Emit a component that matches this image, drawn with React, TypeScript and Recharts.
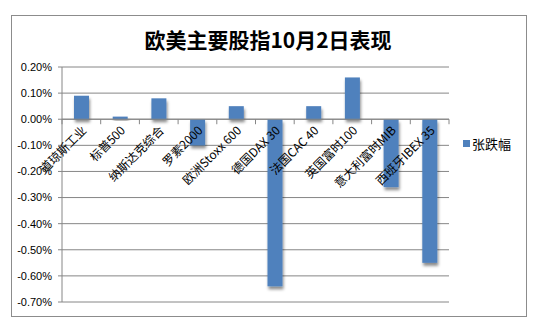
import React from 'react';
import { BarChart, Bar, XAxis, YAxis, CartesianGrid, ReferenceLine, Legend } from 'recharts';

const categories = ['道琼斯工业', '标普500', '纳斯达克综合', '罗素2000', '欧洲Stoxx 600', '德国DAX 30', '法国CAC 40', '英国富时100', '意大利富时MIB', '西班牙IBEX 35'];
const changes = [0.09, 0.01, 0.08, -0.1, 0.05, -0.64, 0.05, 0.16, -0.26, -0.55];
const yTicks = [-0.7, -0.6, -0.5, -0.4, -0.3, -0.2, -0.1, 0, 0.1, 0.2];
const seriesName = '张跌幅';
const title = '欧美主要股指10月2日表现';

const data = categories.map((name, i) => ({ name, value: changes[i] }));

const W = 541;
const H = 328;
const X_AXIS_H = 1;
const M = { top: 67, right: 92, bottom: 25, left: 0 };
const Y_AXIS_W = 62;
const PLOT_H = H - M.top - M.bottom - X_AXIS_H;
const PLOT_W = W - M.left - M.right - Y_AXIS_W;
const YMIN = yTicks[0];
const YMAX = yTicks[yTicks.length - 1];
const BAND = PLOT_W / categories.length;

const XTick = (props: any) => {
  const { x, payload, index } = props;
  const plotBottom = H - M.bottom - X_AXIS_H;
  const zeroY = plotBottom - (PLOT_H * (0 - YMIN)) / (YMAX - YMIN);
  const ax = x + 6;
  const ay = zeroY + 12;
  return (
    <g>
      <line x1={x - BAND / 2} x2={x - BAND / 2} y1={zeroY} y2={zeroY + 5} stroke="#868686" />
      {index === categories.length - 1 && (
        <line x1={x + BAND / 2} x2={x + BAND / 2} y1={zeroY} y2={zeroY + 5} stroke="#868686" />
      )}
      <text
        x={ax}
        y={ay}
        textAnchor="end"
        transform={`rotate(-45 ${ax} ${ay})`}
        fontSize={12}
        fontFamily="'Noto Sans CJK SC', sans-serif"
        fill="#000"
      >
        {payload.value}
      </text>
    </g>
  );
};

const BarShape = (props: any) => {
  const { x, y, width, height, fill } = props;
  const top = height < 0 ? y + height : y;
  const h = Math.abs(height);
  return <rect x={x} y={top} width={width} height={h} fill={fill} filter="url(#barShadow)" />;
};

const LegendContent = () => (
  <div style={{ display: 'flex', alignItems: 'center', fontFamily: "'Noto Sans CJK SC', sans-serif", fontSize: 13, color: '#000' }}>
    <span style={{ display: 'inline-block', width: 7, height: 7, background: '#4F81BD', marginRight: 2 }} />
    <span>{seriesName}</span>
  </div>
);

export default function App() {
  return (
    <div style={{ position: 'absolute', left: 0, top: 0, width: W, height: H, background: '#fff' }}>
      <svg width={0} height={0} style={{ position: 'absolute' }}>
        <defs>
          <filter id="barShadow" x="-50%" y="-50%" width="200%" height="200%">
            <feDropShadow dx={1} dy={3} stdDeviation={1.5} floodColor="#000" floodOpacity={0.45} />
          </filter>
        </defs>
      </svg>
      <div
        style={{
          position: 'absolute',
          left: 11,
          top: 15,
          width: 516,
          height: 302,
          border: '1px solid #8c8c8c',
          boxSizing: 'border-box',
        }}
      />
      <div
        style={{
          position: 'absolute',
          left: 11,
          top: 25,
          width: 514,
          textAlign: 'center',
          fontFamily: "'Noto Sans CJK SC', sans-serif",
          fontWeight: 'bold',
          fontSize: 21,
          lineHeight: '28px',
          color: '#000',
        }}
      >
        {title}
      </div>
      <div style={{ position: 'absolute', left: 0, top: 0 }}>
        <BarChart width={W} height={H} data={data} margin={M}>
          <CartesianGrid vertical={false} stroke="#868686" />
          <YAxis
            width={Y_AXIS_W}
            domain={[YMIN, YMAX]}
            ticks={yTicks}
            interval={0}
            tickFormatter={(v: number) => `${v.toFixed(2)}%`}
            axisLine={{ stroke: '#868686' }}
            tickLine={{ stroke: '#868686' }}
            tickSize={4}
            tickMargin={6}
            tick={{ fontSize: 11, fill: '#000', fontFamily: "'Liberation Sans', Arial, sans-serif" }}
            allowDataOverflow
          />
          <ReferenceLine y={0} stroke="#868686" />
          <Legend
            layout="horizontal"
            align="center"
            verticalAlign="middle"
            content={<LegendContent />}
            wrapperStyle={{ left: 463, top: 134, width: 60 }}
          />
          <Bar dataKey="value" name={seriesName} fill="#4F81BD" barSize={15} shape={<BarShape />} isAnimationActive={false} />
          <XAxis
            dataKey="name"
            height={X_AXIS_H}
            axisLine={false}
            tickLine={false}
            tickSize={0}
            tickMargin={0}
            interval={0}
            tick={(p: any) => <XTick {...p} />}
          />
        </BarChart>
      </div>
    </div>
  );
}
